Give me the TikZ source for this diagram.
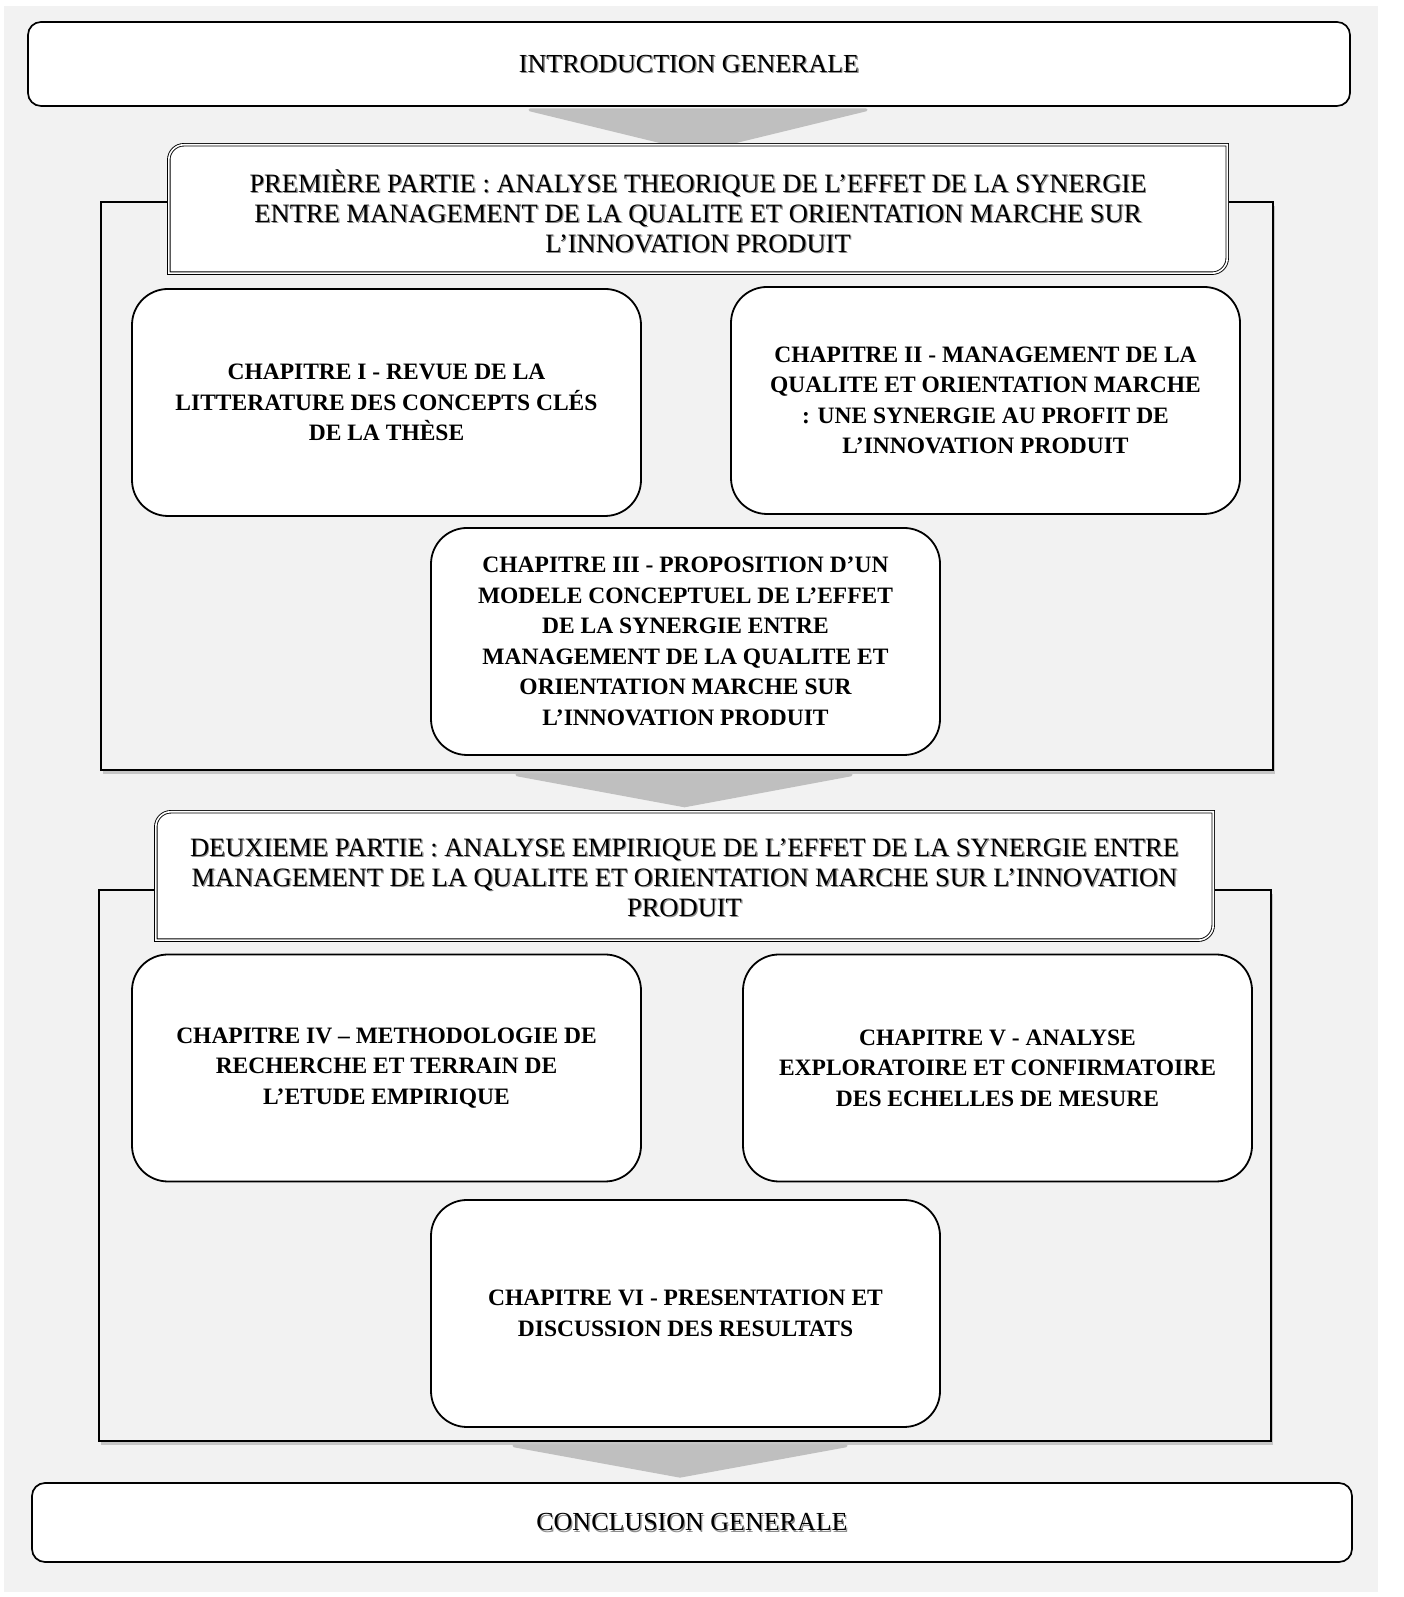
\documentclass[tikz,border=0pt]{standalone}
\usepackage{fontspec}
\setmainfont{Liberation Serif}
\usetikzlibrary{shadows}
\definecolor{bgcol}{HTML}{F2F2F2}
\definecolor{arrowgray}{HTML}{BFBFBF}
\begin{document}
\begin{tikzpicture}[x=1pt,y=1pt,
  chap/.style={draw, line width=1.8pt, rounded corners=36pt, fill=white,
    minimum width=509pt, minimum height=227pt, align=center, inner sep=0pt,
    font=\bfseries\fontsize{23.5}{30.5}\selectfont},
  endbox/.style={draw, line width=1.7pt, rounded corners=13pt, fill=white,
    minimum height=80pt},
  endtxt/.style={align=center, inner sep=0pt, font=\fontsize{26}{30}\selectfont},
  partframe/.style={draw, line width=1.6pt, fill=bgcol,
    drop shadow={shadow xshift=2pt, shadow yshift=-4pt, opacity=0.18, fill=black}},
  headtxt/.style={align=center, inner sep=0pt, font=\fontsize{26.5}{30}\selectfont},
  txtshadow/.style={text=black!45},
  headline/.style={draw=black, line width=0.9pt, double=white, double distance=1.6pt, fill=white},
  blockarrow/.style={fill=arrowgray, draw=arrowgray, line width=3pt, line join=round}
]
\useasboundingbox (0,0) rectangle (1403,1597);
\fill[bgcol] (4,5) rectangle (1378,1591);

% Introduction
\node[endbox, minimum width=1322pt, minimum height=84pt] (intro) at (689,1533) {};
\node[endtxt, txtshadow] (introS) at (690.2,1531.8) {INTRODUCTION GENERALE};
\node[endtxt] (introT) at (689,1533) {INTRODUCTION GENERALE};

% Part 1 frame
\node[partframe, minimum width=1172pt, minimum height=568pt] (f1) at (687,1111) {};

% arrow 1
\node[minimum width=1058pt, minimum height=128pt, inner sep=0pt] (h1) at (698,1388) {};
\draw[blockarrow] ([xshift=-159pt,yshift=-3pt]intro.south) -- ([xshift=177pt,yshift=-3pt]intro.south) -- ([yshift=-6pt]h1.north) -- cycle;

% Part 1 header
\draw[headline] (h1.south west) -- ([yshift=-15pt]h1.north west) arc[start angle=180,end angle=90,radius=15pt]
  -- (h1.north east) -- ([yshift=15pt]h1.south east) arc[start angle=0,end angle=-90,radius=15pt] -- cycle;
\node[headtxt, txtshadow] (h1s) at (699.2,1384.8) {PREMIÈRE PARTIE : ANALYSE THEORIQUE DE L’EFFET DE LA SYNERGIE\\ENTRE MANAGEMENT DE LA QUALITE ET ORIENTATION MARCHE SUR\\L’INNOVATION PRODUIT};
\node[headtxt] (h1t) at (698,1386) {PREMIÈRE PARTIE : ANALYSE THEORIQUE DE L’EFFET DE LA SYNERGIE\\ENTRE MANAGEMENT DE LA QUALITE ET ORIENTATION MARCHE SUR\\L’INNOVATION PRODUIT};

% Chapters of part 1
\node[chap] (c1) at (386.5,1194.5) {CHAPITRE I - REVUE DE LA\\LITTERATURE DES CONCEPTS CLÉS\\DE LA THÈSE};
\node[chap] (c2) at (985.5,1196.5) {CHAPITRE II - MANAGEMENT DE LA\\QUALITE ET ORIENTATION MARCHE\\: UNE SYNERGIE AU PROFIT DE\\L’INNOVATION PRODUIT};
\node[chap] (c3) at (685.5,955.5) {CHAPITRE III - PROPOSITION D’UN\\MODELE CONCEPTUEL DE L’EFFET\\DE LA SYNERGIE ENTRE\\MANAGEMENT DE LA QUALITE ET\\ORIENTATION MARCHE SUR\\L’INNOVATION PRODUIT};

% Part 2 frame
\node[partframe, minimum width=1172pt, minimum height=551pt] (f2) at (685,431.5) {};

% arrow 2
\node[minimum width=1057pt, minimum height=128pt, inner sep=0pt] (h2) at (684.5,721) {};
\draw[blockarrow] ([xshift=-170pt,yshift=-4pt]f1.south) -- ([xshift=164pt,yshift=-4pt]f1.south) -- ([yshift=6pt]h2.north) -- cycle;

% Part 2 header
\draw[headline] (h2.south west) -- ([yshift=-15pt]h2.north west) arc[start angle=180,end angle=90,radius=15pt]
  -- (h2.north east) -- ([yshift=15pt]h2.south east) arc[start angle=0,end angle=-90,radius=15pt] -- cycle;
\node[headtxt, txtshadow] (h2s) at (685.7,718.3) {DEUXIEME PARTIE : ANALYSE EMPIRIQUE DE L’EFFET DE LA SYNERGIE ENTRE\\MANAGEMENT DE LA QUALITE ET ORIENTATION MARCHE SUR L’INNOVATION\\PRODUIT};
\node[headtxt] (h2t) at (684.5,719.5) {DEUXIEME PARTIE : ANALYSE EMPIRIQUE DE L’EFFET DE LA SYNERGIE ENTRE\\MANAGEMENT DE LA QUALITE ET ORIENTATION MARCHE SUR L’INNOVATION\\PRODUIT};

% Chapters of part 2
\node[chap] (c4) at (386.5,529) {CHAPITRE IV – METHODOLOGIE DE\\RECHERCHE ET TERRAIN DE\\L’ETUDE EMPIRIQUE};
\node[chap] (c5) at (997.5,529) {CHAPITRE V - ANALYSE\\EXPLORATOIRE ET CONFIRMATOIRE\\DES ECHELLES DE MESURE};
\node[chap] (c6) at (685.5,283.5) {CHAPITRE VI - PRESENTATION ET\\DISCUSSION DES RESULTATS};

% Conclusion
\node[endbox, minimum width=1320pt, minimum height=79pt] (concl) at (692,74.5) {};
\node[endtxt, txtshadow] (conclS) at (693.2,73.3) {CONCLUSION GENERALE};
\node[endtxt] (conclT) at (692,74.5) {CONCLUSION GENERALE};

% arrow 3
\draw[blockarrow] ([xshift=-171pt,yshift=-4pt]f2.south) -- ([xshift=161pt,yshift=-4pt]f2.south) -- ([xshift=-12pt,yshift=6pt]concl.north) -- cycle;
\end{tikzpicture}
\end{document}
